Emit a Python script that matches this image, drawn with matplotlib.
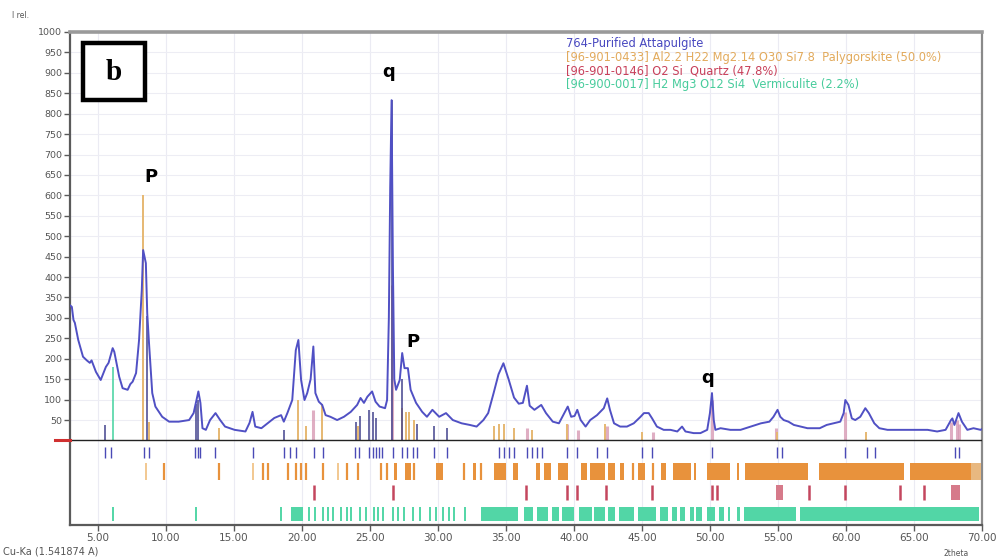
import matplotlib
matplotlib.use("Agg")
import matplotlib.pyplot as plt
from matplotlib.patches import Rectangle
from matplotlib.transforms import blended_transform_factory

# ---------------- measured pattern ----------------
two_theta = [3.0, 3.1, 3.22, 3.32, 3.57, 3.92, 4.2, 4.42, 4.55, 4.87, 5.22, 5.6, 5.8, 6.1, 6.22,
             6.58, 6.83, 7.2, 7.4, 7.57, 7.82, 8.04, 8.24, 8.34, 8.54, 8.64, 8.77, 9.01, 9.24,
             9.74, 10.25, 10.95, 11.72, 12.05, 12.4, 12.55, 12.7, 12.95, 13.26, 13.66, 14.0,
             14.36, 15.06, 15.86, 16.16, 16.38, 16.58, 17.03, 17.53, 17.98, 18.48, 18.68, 18.94,
             19.3, 19.56, 19.75, 19.95, 20.2, 20.4, 20.65, 20.85, 21.0, 21.25, 21.5, 21.75, 22.1,
             22.6, 23.1, 23.6, 24.07, 24.32, 24.57, 24.82, 25.17, 25.42, 25.72, 26.12, 26.27,
             26.4, 26.5, 26.6, 26.7, 26.8, 26.93, 27.2, 27.38, 27.55, 27.8, 28.0, 28.4, 28.85,
             29.2, 29.6, 30.1, 30.6, 31.1, 31.75, 32.35, 32.85, 33.35, 33.7, 34.1, 34.46, 34.82,
             35.2, 35.6, 35.95, 36.25, 36.55, 36.75, 37.1, 37.6, 37.95, 38.45, 38.9, 39.3, 39.55,
             39.8, 40.05, 40.25, 40.5, 40.86, 41.2, 41.7, 42.2, 42.45, 42.65, 42.95, 43.4, 43.9,
             44.4, 44.9, 45.15, 45.5, 45.75, 46.1, 46.6, 47.1, 47.6, 47.95, 48.2, 48.8, 49.3,
             49.8, 50.0, 50.15, 50.28, 50.4, 50.78, 51.5, 52.25, 53.0, 53.75, 54.37, 54.67,
             54.97, 55.17, 55.42, 55.77, 56.17, 56.67, 57.17, 57.57, 58.07, 58.58, 59.08, 59.58,
             59.83, 59.95, 60.18, 60.43, 60.68, 61.05, 61.42, 61.68, 62.08, 62.45, 63.05, 63.8,
             64.5, 65.25, 66.0, 66.7, 67.32, 67.72, 67.82, 67.97, 68.27, 68.52, 68.92, 69.37,
             69.9, 70.0]
intensity = [330, 327, 295, 288, 246, 205, 196, 190, 196, 168, 148, 180, 190, 226, 217,
             156, 128, 124, 138, 144, 165, 246, 368, 466, 434, 312, 239, 116, 83,
             58, 46, 46, 50, 67, 120, 92, 30, 26, 50, 67, 50,
             34, 26, 22, 43, 70, 34, 30, 43, 55, 62, 46, 67,
             99, 221, 246, 148, 99, 116, 150, 230, 116, 95, 87, 62, 58,
             50, 58, 70, 87, 104, 92, 107, 120, 95, 83, 79, 99,
             300, 620, 833, 420, 150, 124, 148, 214, 177, 177, 124, 92, 70,
             58, 75, 58, 67, 50, 42, 38, 34, 50, 67, 116, 162, 189,
             150, 105, 90, 92, 134, 85, 75, 87, 67, 46, 42, 67, 83,
             58, 60, 75, 50, 34, 50, 62, 79, 103, 75, 42, 34, 34,
             42, 58, 67, 67, 54, 34, 26, 26, 22, 34, 22, 18, 18,
             26, 67, 116, 50, 26, 30, 26, 26, 34, 42, 46, 58,
             75, 58, 50, 46, 38, 34, 30, 30, 30, 38, 42, 46,
             67, 99, 87, 54, 50, 58, 79, 67, 42, 30, 26, 26,
             26, 26, 26, 22, 26, 50, 54, 38, 67, 46, 26, 30,
             26, 28]

# peak sticks drawn inside the pattern
obs_stick_pos = [5.56, 8.6, 12.2, 12.4, 18.66, 24.0, 24.3, 24.95, 25.2, 25.44, 26.6, 27.4, 28.5, 29.73, 30.71]
obs_stick_int = [38, 305, 90, 100, 25, 45, 60, 75, 70, 55, 833, 150, 40, 35, 30]
pal_stick_pos = [8.36, 8.75, 13.93, 19.75, 20.3, 21.5, 24.1, 27.4, 27.65, 27.9, 28.26,
                 34.14, 34.5, 34.86, 35.6, 36.95, 39.5, 42.3, 45.0, 54.9, 61.5]
pal_stick_int = [600, 45, 30, 100, 35, 90, 35, 80, 70, 70, 50,
                 35, 40, 40, 30, 25, 40, 40, 20, 20, 20]
qtz_stick_pos = [20.86, 26.64, 36.54, 39.47, 40.29, 42.45, 45.79, 50.14, 54.87, 59.96, 67.74, 68.14, 68.32]
qtz_stick_int = [75, 380, 30, 40, 25, 35, 20, 100, 30, 70, 45, 50, 40]
ver_stick_pos = [6.1]
ver_stick_int = [180]

# reference-line rows below the baseline
obs_row = [5.56, 5.98, 8.38, 8.79, 12.17, 12.35, 12.52, 13.64, 16.43, 18.66, 19.14, 19.57,
           20.87, 21.53, 23.92, 24.21, 24.95, 25.2, 25.44, 25.68, 25.93, 26.67, 27.4, 27.77,
           28.14, 28.5, 29.73, 30.71, 34.5, 34.86, 35.23, 35.6, 36.58, 36.95, 37.32, 37.68,
           39.52, 40.25, 41.72, 42.46, 45.03, 45.76, 50.17, 54.94, 55.31, 59.96, 61.55, 62.16,
           68.04, 68.29]
pal_row = [9.88, 13.93, 17.12, 17.49, 18.96, 19.57, 19.94, 20.3, 21.53, 23.36, 24.1, 25.81,
           26.3, 28.26, 31.93, 33.16, 44.35, 45.85]
pal_row_light = [8.55, 16.43, 22.63]
pal_row_blocks = [(26.8, 27.0), (27.6, 28.0), (29.85, 30.35), (32.6, 32.8), (34.1, 35.0),
                  (35.5, 35.9), (37.2, 37.5), (37.8, 38.3), (38.8, 39.6), (40.5, 41.0),
                  (41.2, 42.3), (42.5, 43.0), (43.4, 43.7), (44.7, 45.2), (46.4, 46.8),
                  (47.3, 48.6), (48.8, 49.0), (49.8, 51.5), (52.0, 52.15), (52.6, 57.2),
                  (58.0, 64.3), (64.7, 69.2)]
pal_row_fade = [(69.2, 69.95)]
qtz_row = [20.87, 26.67, 36.46, 39.5, 40.25, 42.33, 45.76, 50.17, 50.53, 57.27, 59.96, 64.0, 65.71]
qtz_row_blocks = [(54.85, 55.35), (67.75, 68.4)]
ver_row = [6.1, 12.2, 18.46, 20.5, 21.0, 21.55, 21.9, 22.3, 22.9, 23.3, 23.6, 24.3, 24.7,
           25.3, 25.6, 26.0, 26.7, 27.1, 27.5, 28.2, 28.7, 29.4, 29.9, 30.4, 30.8, 31.2, 32.0]
ver_row_blocks = [(19.2, 20.1), (33.2, 35.9), (36.3, 37.0), (37.3, 38.1), (38.4, 38.9),
                  (39.1, 40.0), (40.4, 41.3), (41.5, 42.3), (42.5, 43.0), (43.3, 44.4),
                  (44.7, 46.0), (46.3, 46.9), (47.2, 47.6), (47.8, 48.2), (48.5, 48.8),
                  (49.0, 49.4), (49.8, 50.4), (50.7, 51.0), (51.3, 51.5), (52.0, 52.2),
                  (52.5, 56.3), (56.6, 69.8)]

y_ticks = list(range(50, 1001, 50))
x_ticks = list(range(5, 71, 5))

legend_lines = ["764-Purified Attapulgite",
                "[96-901-0433] Al2.2 H22 Mg2.14 O30 Si7.8  Palygorskite (50.0%)",
                "[96-901-0146] O2 Si  Quartz (47.8%)",
                "[96-900-0017] H2 Mg3 O12 Si4  Vermiculite (2.2%)"]

peak_labels = [("P", 8.9, 645), ("q", 26.4, 902), ("P", 28.2, 240), ("q", 49.85, 153)]

# ---------------- styling ----------------
C_OBS = "#5050c4"
C_PAL = "#e8923c"
C_PAL_LIGHT = "#f2c890"
C_QTZ = "#c4465e"
C_VER = "#52d6a6"
TEXT = "#555555"

plt.rcParams["font.family"] = ["DejaVu Sans"]

fig = plt.figure(figsize=(9.97, 5.58), dpi=100)
ax = fig.add_axes([0.0707, 0.0591, 0.9143, 0.8836])
ax.set_xlim(3, 70)
ax.set_ylim(-207, 1000)

# light grid
for v in x_ticks:
    ax.axvline(v, color="#ebebf3", lw=0.8, zorder=0)
for v in y_ticks:
    ax.axhline(v, color="#ededf4", lw=0.8, zorder=0)

# sticks inside the pattern
ax.vlines(qtz_stick_pos, 0, qtz_stick_int, color="#d89ab4", lw=2.2, alpha=0.8, zorder=2)
ax.vlines(pal_stick_pos, 0, pal_stick_int, color="#e6b872", lw=1.4, zorder=2)
ax.vlines(ver_stick_pos, 0, ver_stick_int, color=C_VER, lw=1.2, zorder=2)
ax.vlines(obs_stick_pos, 0, obs_stick_int, color="#44448e", lw=1.3, alpha=0.85, zorder=3)

# measured curve
ax.plot(two_theta, intensity, color=C_OBS, lw=1.4, zorder=4)

# baseline
ax.axhline(0, color="#222222", lw=1.0, zorder=5)
tr = blended_transform_factory(ax.transAxes, ax.transData)
ax.plot([-0.017, 0.0], [0, 0], color="#d03030", lw=2.2, transform=tr, clip_on=False, zorder=6)

# reference-line rows
ax.vlines(obs_row, -43, -16, color="#4a4ab6", lw=1.0, zorder=3)
ax.vlines(pal_row, -97, -56, color=C_PAL, lw=1.6, zorder=3)
ax.vlines(pal_row_light, -97, -56, color=C_PAL_LIGHT, lw=1.4, zorder=3)
ax.broken_barh([(a, b - a) for a, b in pal_row_blocks], (-97, 41), facecolors=C_PAL, zorder=3)
ax.broken_barh([(a, b - a) for a, b in pal_row_fade], (-97, 41), facecolors="#e8b880", zorder=3)
ax.vlines(qtz_row, -146, -110, color=C_QTZ, lw=1.8, zorder=3)
ax.broken_barh([(a, b - a) for a, b in qtz_row_blocks], (-146, 36), facecolors="#d67a8a", zorder=3)
ax.vlines(ver_row, -198, -163, color=C_VER, lw=1.4, zorder=3)
ax.broken_barh([(a, b - a) for a, b in ver_row_blocks], (-198, 35), facecolors=C_VER, zorder=3)

# axes frame and ticks
for side in ("left", "bottom"):
    ax.spines[side].set_color("#5a5a5a")
    ax.spines[side].set_linewidth(1.6)
ax.spines["top"].set_color("#9a9a9a")
ax.spines["top"].set_linewidth(2.6)
ax.spines["right"].set_color("#8a8a8a")
ax.spines["right"].set_linewidth(1.6)

ax.set_yticks(y_ticks)
ax.set_yticklabels([str(v) for v in y_ticks])
ax.set_xticks(x_ticks)
ax.set_xticklabels([f"{v:.2f}" for v in x_ticks])
ax.tick_params(axis="y", direction="out", length=4, width=1, colors="#5a5a5a",
               labelcolor=TEXT, labelsize=6.8, pad=2)
ax.tick_params(axis="x", direction="out", length=4, width=1, colors="#5a5a5a",
               labelcolor=TEXT, labelsize=7.5, pad=2)

# peak labels
for s, xv, yv in peak_labels:
    ax.text(xv, yv, s, ha="center", va="center", fontsize=13, fontweight="bold",
            color="black", zorder=7)

# panel tag
fig.add_artist(Rectangle((83 / 997, 1 - 100 / 558), 62 / 997, 57 / 558,
                         transform=fig.transFigure, facecolor="white",
                         edgecolor="black", lw=3.2, zorder=10))
fig.text(114 / 997, 1 - 72 / 558, "b", ha="center", va="center", fontsize=21,
         fontweight="bold", family="Liberation Serif", zorder=11)

# phase legend
leg_colors = ["#4848c0", "#e2aa5c", "#c8405a", "#48cc9c"]
for i, (txt, col) in enumerate(zip(legend_lines, leg_colors)):
    fig.text(566 / 997, 1 - (44 + 13.5 * i) / 558, txt, color=col, fontsize=8.3,
             ha="left", va="center")

# corner captions
fig.text(12 / 997, 1 - 15 / 558, "I rel.", fontsize=5.5, color=TEXT, ha="left", va="center")
fig.text(3 / 997, 1 - 552 / 558, "Cu-Ka (1.541874 A)", fontsize=7, color=TEXT,
         ha="left", va="center")
fig.text(956 / 997, 1 - 553 / 558, "2theta", fontsize=5.5, color=TEXT, ha="center", va="center")

fig.savefig("out.png", dpi=100)
